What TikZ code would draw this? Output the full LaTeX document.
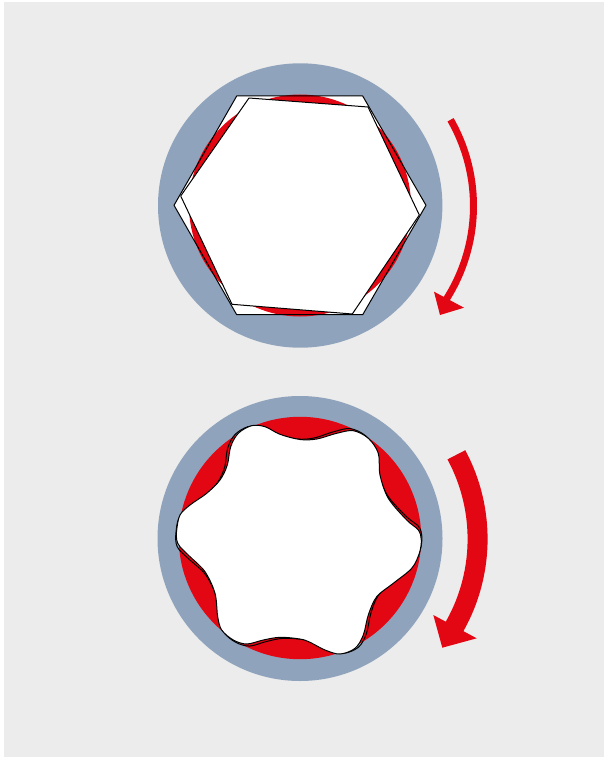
\documentclass[tikz,border=0pt]{standalone}
\definecolor{bgray}{HTML}{ECECEC}
\definecolor{ringblue}{HTML}{8FA4BC}
\definecolor{mred}{HTML}{E30613}
\newcommand{\lobepts}{
(176.7,530)(180,515)(190,505)(206.7,493.3)(220,480)(227.3,465)(230.7,446.7)(238.3,433.3)(251.7,425.7)(265,426.7)(280,434.3)(300,439.5)
(316.7,439)(336.7,433.3)(353.3,430.7)(368.3,438.3)(378.3,453.3)(380,475)(388.3,498.3)(406.7,520)(418.3,530)(421.3,540)
(419.3,553.3)(411.7,568.3)(393.3,583.3)(376.7,596.7)(368.3,615)(363.3,635)(355,648.3)(340,654)(325,650)(310,642.3)(300,639)
(280,637.3)(263.3,640)(246.7,644)(233.3,640)(221.7,630)(217.7,616.7)(215,593.3)(205,571.7)(190,556.7)(180,546.7)(176.7,540)
}
\tikzset{
  ring/.style={fill=ringblue},
  redfill/.style={fill=mred},
  outline/.style={draw=black,line width=1pt,line join=round},
  whiteface/.style={fill=white,draw=black,line width=1pt,line join=round},
  arrowhd/.style={fill=mred},
}
\begin{document}
\begin{tikzpicture}[x=1pt,y=-1pt]
\useasboundingbox (0,0) rectangle (604,757);
\fill[white] (0,0) rectangle (604,757);
\fill[bgray] (4,2) rectangle (604,757);
% top
\fill[ring] (300.2,205.5) circle[radius=142.2];
\fill[white] (174,205.3)--(236.7,96)--(362.7,96)--(426,205.3)--(362.7,314.7)--(236.7,314.7)--cycle;
\fill[redfill] (300,205.5) circle[radius=111];
\draw[outline] (174,205.3)--(236.7,96)--(362.7,96)--(426,205.3)--(362.7,314.7)--(236.7,314.7)--cycle;
\draw[whiteface] (249,98)--(368,107)--(419.3,215)--(352.3,314)--(232,304.3)--(180.7,196)--cycle;
\draw[mred,line width=7pt] (300,206)+(-29.8:173.5) arc[start angle=-29.8,end angle=33,radius=173.5];
\fill[arrowhd] (434,291.7)--(464,307.7)--(440,315)--cycle;
% bottom
\fill[ring] (300,538.5) circle[radius=142.5];
\fill[redfill] (300,538) circle[radius=121.2];
\begin{scope}[rotate around={1.7:(300,539)},shift={(-1.5,-2.7)},scale=1.005]
\draw[outline] plot[smooth cycle,tension=0.55] coordinates {\lobepts};
\end{scope}
\draw[whiteface] plot[smooth cycle,tension=0.55] coordinates {\lobepts};
\draw[mred,line width=20pt] (300,539)+(-28.3:177.6) arc[start angle=-28.3,end angle=31,radius=177.6];
\fill[arrowhd] (433.3,615)--(476.7,638.3)--(442.3,647.7)--cycle;
\end{tikzpicture}
\end{document}
